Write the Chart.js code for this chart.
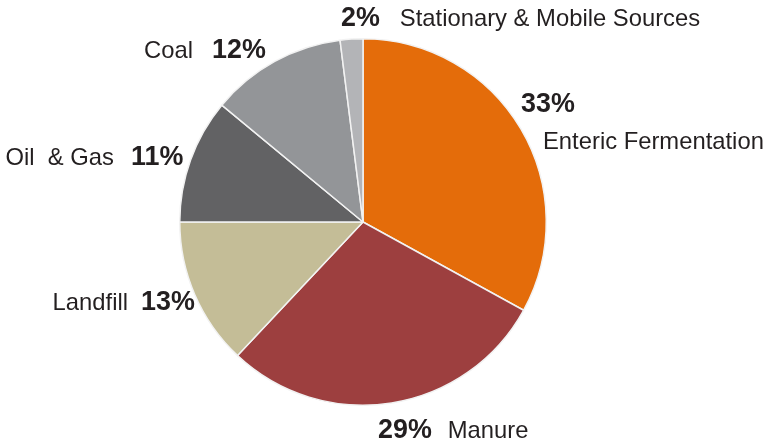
<!DOCTYPE html>
<html>
<head>
<meta charset="utf-8">
<script src="https://cdn.jsdelivr.net/npm/chart.js@4.4.0/dist/chart.umd.min.js"></script>
<style>
  html, body { margin: 0; padding: 0; background: #fff; }
  #wrap { width: 771px; height: 445px; }
</style>
</head>
<body>
<div id="wrap"><canvas id="pie"></canvas></div>
<script>
const sources = ['Enteric Fermentation', 'Manure', 'Landfill', 'Oil  & Gas', 'Coal', 'Stationary & Mobile Sources'];
const shares = [33, 29, 13, 11, 12, 2];
const colors = ['#e46c0a', '#9d3f3f', '#c4bd97', '#626264', '#939598', '#b3b4b7'];

// label anchors relative to the pie centre (baseline y)
const labelSpots = [
  { dx: 158, dy: -110, pctFirst: true, twoLines: true, nameDx: 180, nameDy: -73 },
  { dx: 15, dy: 216, pctFirst: true, gap: 16 },
  { dx: -235, dy: 88, pctFirst: false, gap: 13 },
  { dx: -249, dy: -57, pctFirst: false, gap: 17 },
  { dx: -170, dy: -164, pctFirst: false, gap: 19 },
  { dx: -22, dy: -196, pctFirst: true, gap: 20 }
];

const nameFont = '23.8px "Liberation Sans", Arial, sans-serif';
const pctFont = 'bold 28px "Liberation Sans", Arial, sans-serif';
const pctSqueeze = 0.96;

const sliceLabels = {
  id: 'sliceLabels',
  afterDraw(chart) {
    const ctx = chart.ctx;
    const arc = chart.getDatasetMeta(0).data[0];
    const cx = arc.x, cy = arc.y;

    const drawPct = (txt, x, y) => {
      ctx.save();
      ctx.font = pctFont;
      ctx.textAlign = 'left';
      ctx.translate(x, y);
      ctx.scale(pctSqueeze, 1);
      ctx.fillText(txt, 0, 0);
      const w = ctx.measureText(txt).width * pctSqueeze;
      ctx.restore();
      return w;
    };

    ctx.save();
    ctx.fillStyle = '#231f20';
    ctx.textBaseline = 'alphabetic';
    chart.data.labels.forEach((name, i) => {
      const s = labelSpots[i];
      const pct = chart.data.datasets[0].data[i] + '%';
      const x = cx + s.dx, y = cy + s.dy;
      if (s.twoLines) {
        drawPct(pct, x, y);
        ctx.font = nameFont; ctx.textAlign = 'left';
        ctx.fillText(name, cx + s.nameDx, cy + s.nameDy);
      } else if (s.pctFirst) {
        const w = drawPct(pct, x, y);
        ctx.font = nameFont; ctx.textAlign = 'left';
        ctx.fillText(name, x + w + s.gap, y);
      } else {
        ctx.font = nameFont; ctx.textAlign = 'right';
        ctx.fillText(name, x, y);
        drawPct(pct, x + s.gap, y);
      }
    });
    ctx.restore();
  }
};

new Chart(document.getElementById('pie'), {
  type: 'pie',
  data: {
    labels: sources,
    datasets: [{
      data: shares,
      backgroundColor: colors,
      borderColor: '#f2f2f2',
      borderWidth: 1.5
    }]
  },
  options: {
    responsive: true,
    maintainAspectRatio: false,
    animation: false,
    layout: { padding: { left: 179, right: 224, top: 38, bottom: 39 } },
    plugins: {
      legend: { display: false },
      tooltip: { enabled: false }
    }
  },
  plugins: [sliceLabels]
});
</script>
</body>
</html>
